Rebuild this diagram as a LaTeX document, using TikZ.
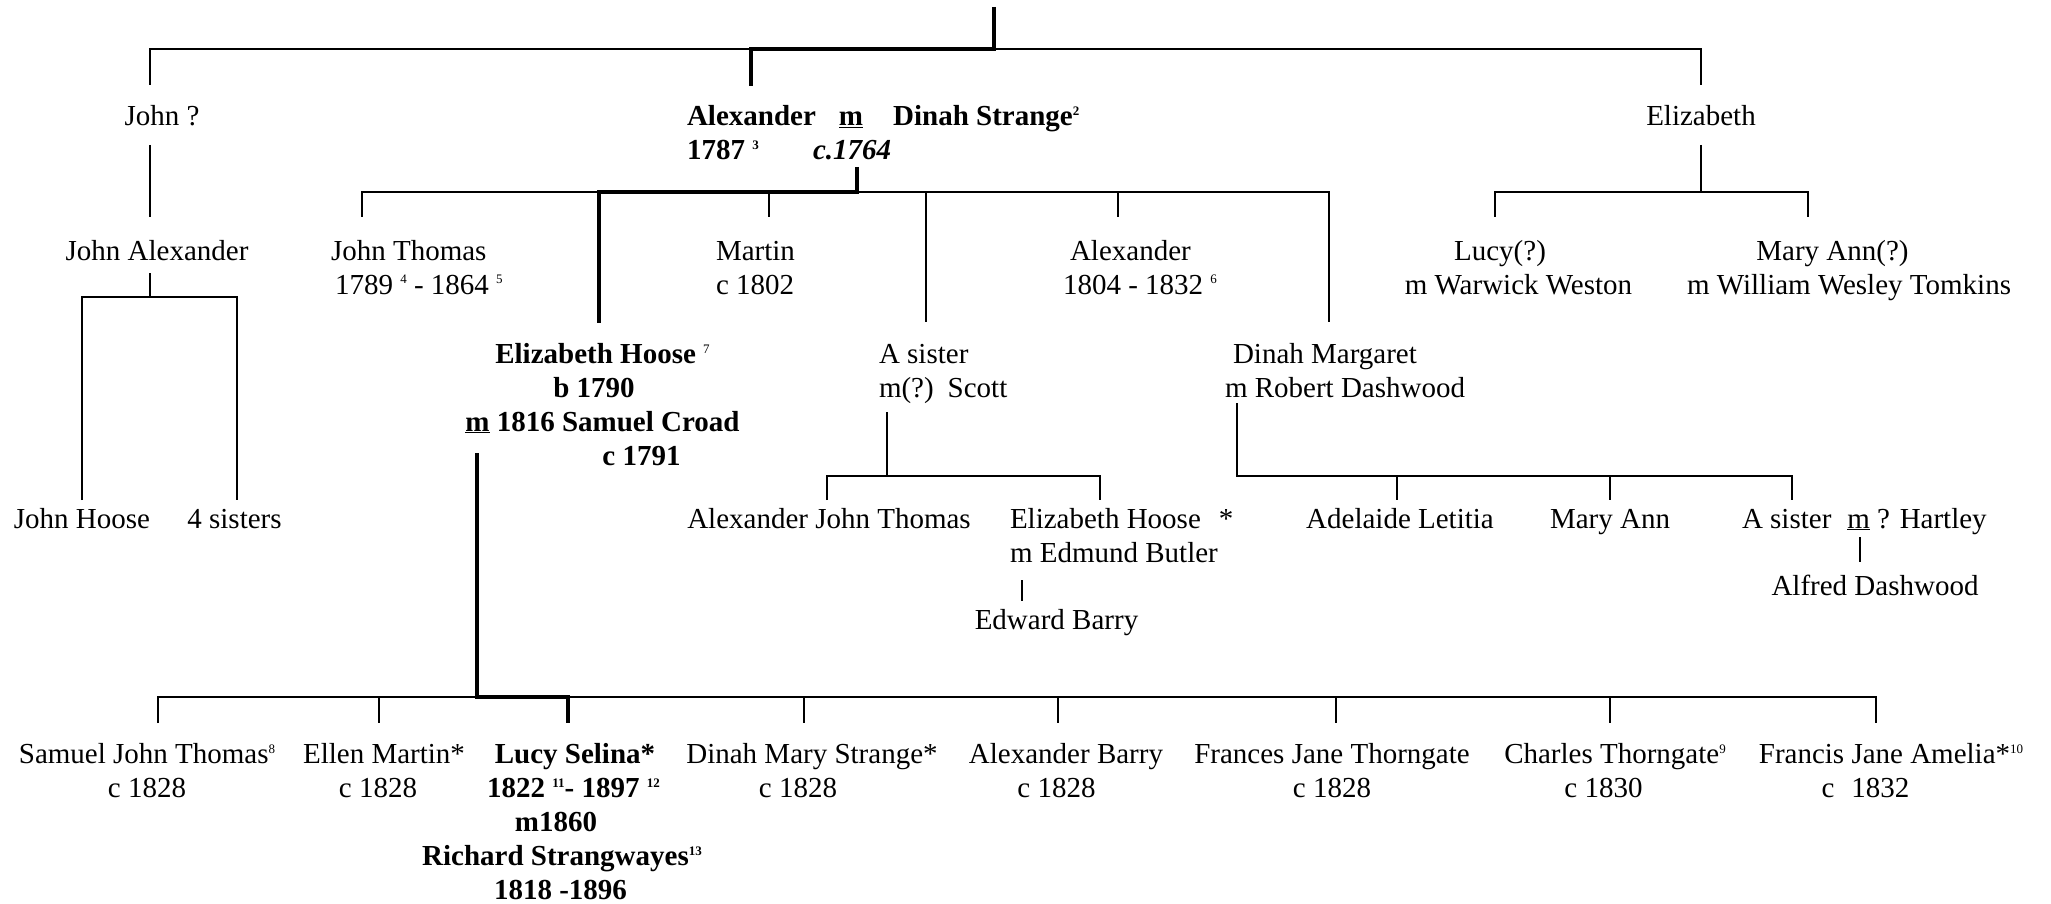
\documentclass[tikz,border=0pt]{standalone}
\usepackage{fontspec}
\setmainfont{Liberation Serif}
\newcommand{\sps}[1]{\raisebox{10pt}{\fontsize{13}{13}\selectfont #1}}
\newcommand{\tc}[1]{\begin{tabular}[t]{@{}c@{}}#1\end{tabular}}
\newcommand{\tl}[1]{\begin{tabular}[t]{@{}l@{}}#1\end{tabular}}
\begin{document}
\begin{tikzpicture}[x=1pt,y=-1pt,
  font=\fontsize{29}{34}\selectfont,
  every node/.style={inner sep=0pt,outer sep=0pt},
  person/.style={anchor=base},
  lperson/.style={anchor=base west},
  bperson/.style={anchor=base,font=\fontsize{29}{34}\selectfont\bfseries},
  blperson/.style={anchor=base west,font=\fontsize{29}{34}\selectfont\bfseries},
  thinline/.style={line width=2pt},
  heavy/.style={line width=4pt}]
\useasboundingbox (0,0) rectangle (2051,904);

% ---------- nodes ----------
\node[person] (johnq) at (162,126) {John ?};
\node[blperson] (alex) at (687,126) {\tl{\makebox[152pt][l]{Alexander}\underline{m}\hspace{30pt}Dinah Strange\sps{2}\\ \makebox[126pt][l]{1787 \sps{3}}\textit{c.1764}}};
\node[person] (eliz) at (1701,126) {Elizabeth};

\node[person] (johnalex) at (157,260) {John Alexander};
\node[lperson] (johnthomas) at (331,260) {\tl{John Thomas\\ \hspace*{4pt}1789 \sps{4} - 1864 \sps{5}}};
\node[lperson] (martin) at (716,260) {\tl{Martin\\c 1802}};
\node[lperson] (alexander) at (1063,260) {\tl{\hspace*{7pt}Alexander\\1804 - 1832 \sps{6}}};
\node[person] (lucy) at (1518.5,260) {\tc{Lucy(?)\hspace*{37pt}\\m Warwick Weston}};
\node[person] (maryann) at (1849,260) {\tc{Mary Ann(?)\hspace*{33pt}\\m William Wesley Tomkins}};

\node[bperson] (elizhoose) at (602.5,363) {\tc{Elizabeth Hoose \sps{\mdseries 7}\\b 1790\hspace*{17pt}\\\underline{m} 1816 Samuel Croad\\\hspace*{78pt}c 1791}};
\node[lperson] (asister) at (879,363) {\tl{A sister\\m(?)\hspace{14pt}Scott}};
\node[lperson] (dinahm) at (1225,363) {\tl{\hspace*{8pt}Dinah Margaret\\m Robert Dashwood}};

\node[person] (johnhoose) at (82,528) {John Hoose};
\node[person] (sisters) at (234.5,528) {4 sisters};
\node[person] (ajt) at (829,528) {Alexander John Thomas};
\node[lperson] (ehb) at (1010,528) {\tl{Elizabeth Hoose\hspace{18pt}*\\m Edmund Butler}};
\node[person] (edward) at (1056.5,629) {Edward Barry};
\node[person] (adelaide) at (1400,528) {Adelaide Letitia};
\node[person] (maryann2) at (1610,528) {Mary Ann};
\node[lperson] (asister2) at (1742,528) {A sister\hspace{16pt}\underline{m} ? Hartley};
\node[person] (alfred) at (1875,595) {Alfred Dashwood};

\node[person] (samuel) at (147,763) {\tc{Samuel John Thomas\sps{8}\\c 1828}};
\node[person] (ellen) at (384,763) {\tc{Ellen Martin*\\c 1828\hspace*{12pt}}};
\node[bperson] (lucys) at (562,763) {\tc{\hspace*{26pt}Lucy Selina*\\\hspace*{23pt}1822 \sps{11}- 1897 \sps{12}\\m1860\hspace*{12pt}\\Richard Strangwayes\sps{13}\\1818 -1896\hspace*{3pt}}};
\node[person] (dinahmary) at (812,763) {\tc{Dinah Mary Strange*\\c 1828\hspace*{28pt}}};
\node[person] (alexbarry) at (1066,763) {\tc{Alexander Barry\\c 1828\hspace*{19pt}}};
\node[person] (frances) at (1332,763) {\tc{Frances Jane Thorngate\\c 1828}};
\node[person] (charles) at (1615,763) {\tc{Charles Thorngate\sps{9}\\c 1830\hspace*{23pt}}};
\node[person] (francis) at (1891,763) {\tc{Francis Jane Amelia*\sps{10}\\c\hspace{17pt}1832\hspace*{51pt}}};

% ---------- connector points ----------
\coordinate (root) at (994,7);
\coordinate (rootbar) at (994,49);
\coordinate (johnq-in) at (150,85);
\coordinate (eliz-in) at (1701,85);
\coordinate (alex-in) at (751,86);
\coordinate (johnq-out) at (150,145);
\coordinate (johnalex-in) at (150,217);
\coordinate (johnalex-out) at (150,273);
\coordinate (johnalex-bar) at (150,297);
\coordinate (johnhoose-in) at (82,500);
\coordinate (sisters-in) at (237,500);
\coordinate (eliz-out) at (1701,145);
\coordinate (eliz-bar) at (1701,192);
\coordinate (lucy-in) at (1495,217);
\coordinate (maryann-in) at (1808,217);
\coordinate (alex-out) at (857,167);
\coordinate (alex-bar) at (857,192);
\coordinate (johnthomas-in) at (362,217);
\coordinate (elizhoose-in) at (599,323);
\coordinate (martin-in) at (769,217);
\coordinate (asister-in) at (926,322);
\coordinate (alexander-in) at (1118,217);
\coordinate (dinahm-in) at (1329,322);
\coordinate (elizhoose-out) at (477,453);
\coordinate (elizhoose-bar) at (477,697);
\coordinate (samuel-in) at (158,723);
\coordinate (ellen-in) at (379,723);
\coordinate (lucys-in) at (568,723);
\coordinate (dinahmary-in) at (804,723);
\coordinate (alexbarry-in) at (1058,723);
\coordinate (frances-in) at (1336,723);
\coordinate (charles-in) at (1610,723);
\coordinate (francis-in) at (1876,723);
\coordinate (asister-out) at (887,412);
\coordinate (asister-bar) at (887,476);
\coordinate (ajt-in) at (827,500);
\coordinate (ehb-in) at (1100,500);
\coordinate (ehb-out) at (1022,580);
\coordinate (edward-in) at (1022,601);
\coordinate (dinahm-out) at (1237,403);
\coordinate (dinahm-bar) at (1237,476);
\coordinate (adelaide-in) at (1397,500);
\coordinate (maryann2-in) at (1610,500);
\coordinate (asister2-in) at (1792,500);
\coordinate (asister2-out) at (1860,537);
\coordinate (alfred-in) at (1860,562);

% ---------- thin connectors ----------
\draw[thinline] (johnq-in) -- (johnq-in |- rootbar) -- (eliz-in |- rootbar) -- (eliz-in);
\draw[thinline] (johnq-out) -- (johnalex-in);
\draw[thinline] (johnalex-out) -- (johnalex-bar);
\draw[thinline] (johnhoose-in) -- (johnhoose-in |- johnalex-bar) -- (sisters-in |- johnalex-bar) -- (sisters-in);
\draw[thinline] (eliz-out) -- (eliz-bar);
\draw[thinline] (lucy-in) -- (lucy-in |- eliz-bar) -- (maryann-in |- eliz-bar) -- (maryann-in);
\draw[thinline] (johnthomas-in) -- (johnthomas-in |- alex-bar) -- (dinahm-in |- alex-bar) -- (dinahm-in);
\draw[thinline] (martin-in |- alex-bar) -- (martin-in);
\draw[thinline] (asister-in |- alex-bar) -- (asister-in);
\draw[thinline] (alexander-in |- alex-bar) -- (alexander-in);
\draw[thinline] (samuel-in) -- (samuel-in |- elizhoose-bar) -- (francis-in |- elizhoose-bar) -- (francis-in);
\foreach \c in {ellen-in,dinahmary-in,alexbarry-in,frances-in,charles-in}
  \draw[thinline] (\c |- elizhoose-bar) -- (\c);
\draw[thinline] (asister-out) -- (asister-bar);
\draw[thinline] (ajt-in) -- (ajt-in |- asister-bar) -- (ehb-in |- asister-bar) -- (ehb-in);
\draw[thinline] (ehb-out) -- (edward-in);
\draw[thinline] (dinahm-out) -- (dinahm-bar) -- (asister2-in |- dinahm-bar) -- (asister2-in);
\draw[thinline] (adelaide-in |- dinahm-bar) -- (adelaide-in);
\draw[thinline] (maryann2-in |- dinahm-bar) -- (maryann2-in);
\draw[thinline] (asister2-out) -- (alfred-in);

% ---------- heavy (direct line) ----------
\draw[heavy] (root) -- (rootbar) -- (alex-in |- rootbar) -- (alex-in);
\draw[heavy] (alex-out) -- (alex-bar) -- (elizhoose-in |- alex-bar) -- (elizhoose-in);
\draw[heavy] (elizhoose-out) -- (elizhoose-bar) -- (lucys-in |- elizhoose-bar) -- (lucys-in);
\end{tikzpicture}
\end{document}
